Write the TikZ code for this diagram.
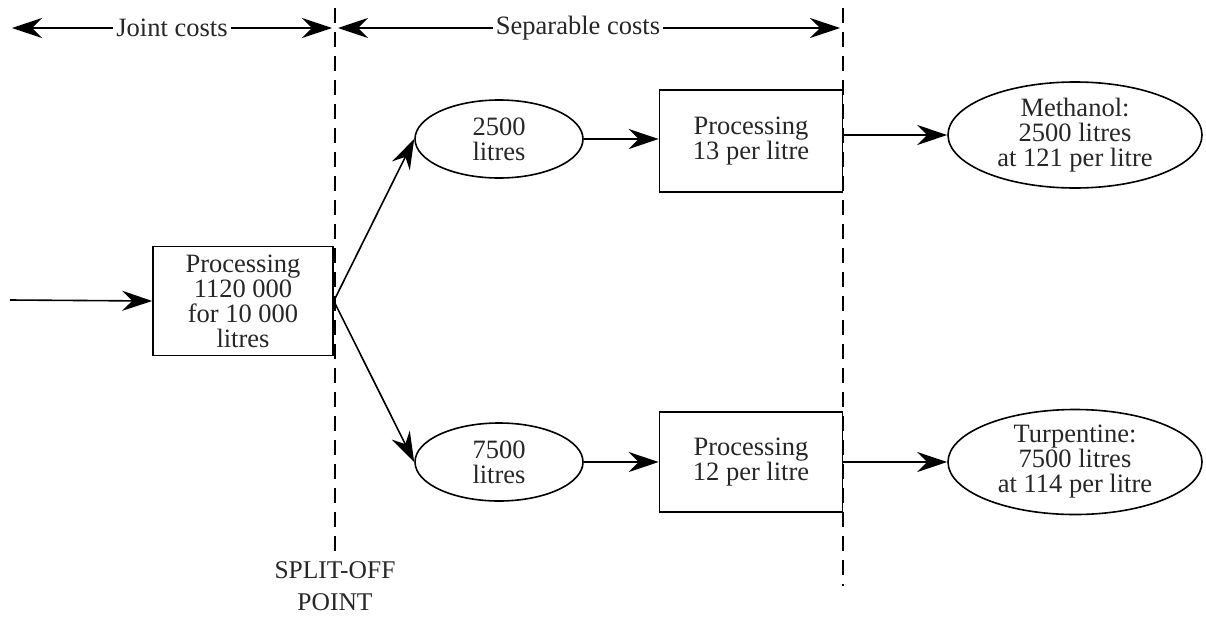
\documentclass[tikz,border=0pt]{standalone}
\usepackage{fontspec}
\setmainfont{Liberation Serif}
\usetikzlibrary{arrows.meta,shapes.geometric}
\begin{document}
\begin{tikzpicture}[x=1pt,y=-1pt,
  every node/.style={font=\fontsize{26.5}{25}\selectfont, text=black!85},
  flow/.style={line width=1.6pt, -{Stealth[length=30pt,width=20pt,inset=10pt]}},
  procbox/.style={draw, line width=1.6pt, align=center, inner sep=0pt},
  qty/.style={draw, ellipse, line width=1.6pt, align=center, inner sep=0pt},
  divider/.style={line width=1.4pt, dash pattern=on 15pt off 9pt}]
\useasboundingbox (0,0) rectangle (1206,616);

% split-off and end-of-processing dividers
\draw[divider] (335,8) -- (335,560);
\draw[divider] (843,8) -- (843,586);
\node (split) at (335,586) [align=center, inner sep=0pt, font=\fontsize{25.5}{32}\selectfont] {SPLIT-OFF\\POINT};

% cost spans along the top
\coordinate (jl) at (12,28);
\coordinate (jr) at (332,28);
\coordinate (sl) at (338,28);
\coordinate (sr) at (840,28);
\node (jc) at (172,28) [fill=white, inner sep=3pt] {Joint costs};
\node (sc) at (578,28) [fill=white, inner sep=3pt] {Separable costs};
\draw[flow, line width=1.4pt] (jc.west) -- (jl);
\draw[flow, line width=1.4pt] (jc.east) -- (jr);
\draw[flow, line width=1.4pt] (sc.west) -- (sl);
\draw[flow, line width=1.4pt] (sc.east) -- (sr);

% joint process
\coordinate (in) at (10,300);
\node (joint) at (243,301) [procbox, minimum width=180pt, minimum height=109pt] {Processing\\1120 000\\for 10 000\\litres};
\draw[flow] (in) -- (joint.west);

% split-off quantities
\node (q1) at (499,139) [qty, minimum width=168pt, minimum height=78pt] {2500\\litres};
\node (q2) at (499,462) [qty, minimum width=168pt, minimum height=78pt] {7500\\litres};
\draw[flow] (joint.east) -- (q1.west);
\draw[flow] (joint.east) -- (q2.west);

% further processing
\node (p1) at (751,141) [procbox, minimum width=183pt, minimum height=102pt] {Processing\\13 per litre};
\node (p2) at (751,462) [procbox, minimum width=183pt, minimum height=100pt] {Processing\\12 per litre};
\draw[flow] (q1.east) -- (p1.west |- q1.east);
\draw[flow] (q2.east) -- (p2.west |- q2.east);

% final products
\node (m) at (1075,135) [qty, minimum width=254pt, minimum height=106pt] {Methanol:\\2500 litres\\at 121 per litre};
\node (t) at (1075,462) [qty, minimum width=254pt, minimum height=105pt] {Turpentine:\\7500 litres\\at 114 per litre};
\draw[flow] (p1.east |- m.west) -- (m.west);
\draw[flow] (p2.east |- t.west) -- (t.west);
\end{tikzpicture}
\end{document}
